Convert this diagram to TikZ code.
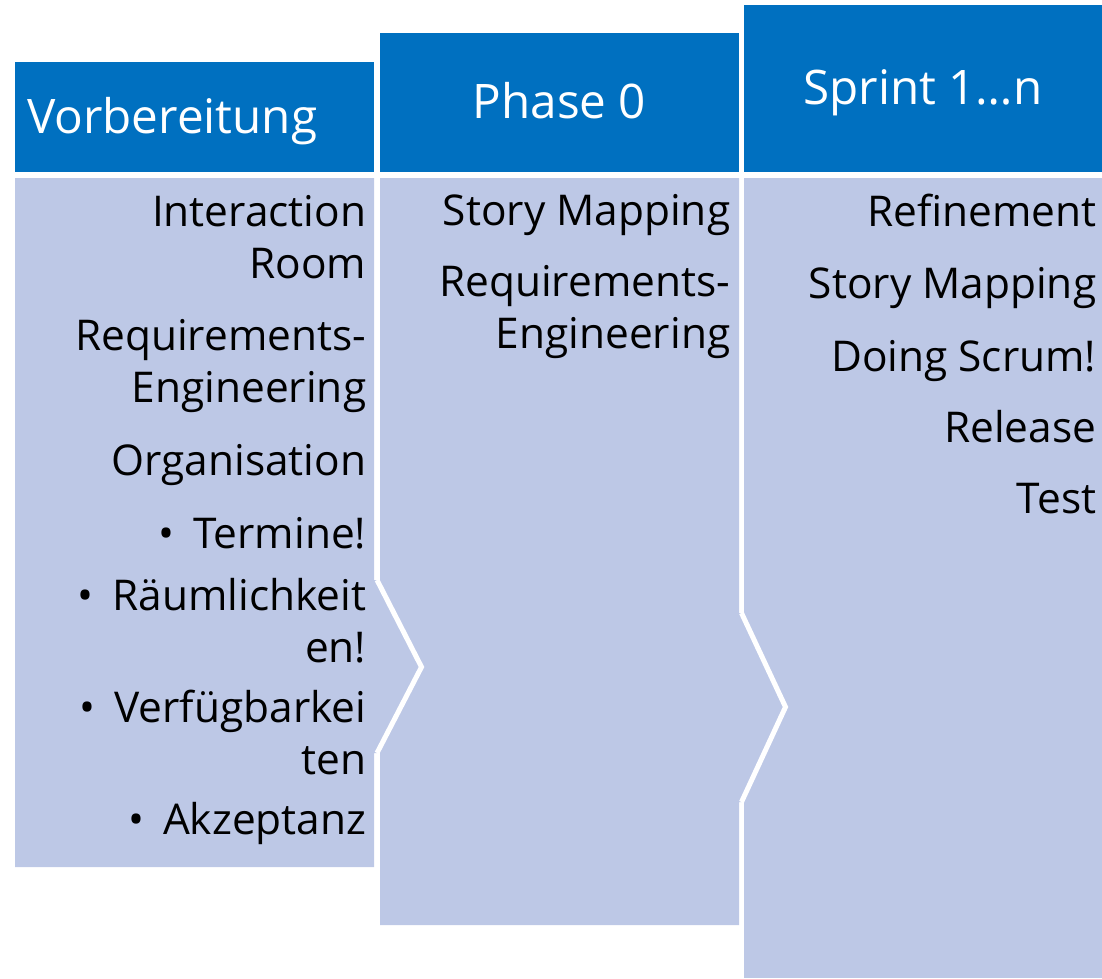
\documentclass[tikz,border=0pt]{standalone}
\usepackage{fontspec}
\setmainfont{Open Sans}
\usepackage{xcolor}
\definecolor{headblue}{RGB}{0,112,192}
\definecolor{bodylav}{RGB}{189,200,230}
\tikzset{
  head/.style={text=white, inner sep=0pt, font=\fontsize{35.7}{43}\selectfont},
  item/.style={anchor=base east, align=right, inner sep=0pt, font=\fontsize{31.8}{38.6}\selectfont},
  gap/.style={draw=white, line width=3.75pt, line join=miter}
}
\newcommand{\bul}{\textbullet\hspace{14pt}}

\begin{document}
\begin{tikzpicture}[x=0.75pt, y=-0.75pt]

\useasboundingbox (0,0) rectangle (1102,978);

\fill[headblue] (15,62) rectangle (374,172);
\fill[headblue] (380,33) rectangle (739,172);
\fill[headblue] (744,5) rectangle (1102,172);

\fill[bodylav] (744,178) rectangle (1102,978);
\fill[bodylav] (380,178) -- (739,178) -- (739,613) -- (741.5,613) -- (785.5,707) -- (741.5,802) -- (739,802) -- (739,925) -- (380,925) -- cycle;
\draw[gap] (741.5,613) -- (785.5,707) -- (741.5,802);
\fill[bodylav] (15,178) -- (374,178) -- (374,580) -- (377,580) -- (421.5,667) -- (377,753) -- (374,753) -- (374,867) -- (15,867) -- cycle;
\draw[gap] (377,580) -- (421.5,667) -- (377,753);

\node[head, anchor=base west] (vorb) at (27,133) {Vorbereitung};
\node[head, anchor=base] (phase) at (559.5,118.5) {Phase 0};
\node[head, anchor=base] (sprint) at (923,104) {Sprint 1…n};

\node[item] (room) at (366.5,278) {Interaction\\Room};
\node[item] (reqA) at (366.5,402) {Requirements-\\Engineering};
\node[item] (orga) at (366.5,475) {Organisation};
\node[item] (termine) at (366.5,548) {\bul Termine!};
\node[item] (raum) at (366.5,662) {\bul Räumlichkeit\\en!};
\node[item] (verf) at (366.5,774) {\bul Verfügbarkei\\ten};
\node[item] (akz) at (366.5,834) {\bul Akzeptanz};

\node[item] (storyA) at (730.5,225) {Story Mapping};
\node[item] (reqB) at (730.5,348) {Requirements-\\Engineering};

\node[item] (refine) at (1096.5,226) {Refinement};
\node[item] (storyB) at (1096.5,298) {Story Mapping};
\node[item] (scrum) at (1096.5,371) {Doing Scrum!};
\node[item] (release) at (1096.5,442) {Release};
\node[item] (test) at (1096.5,513) {Test};

\end{tikzpicture}
\end{document}
